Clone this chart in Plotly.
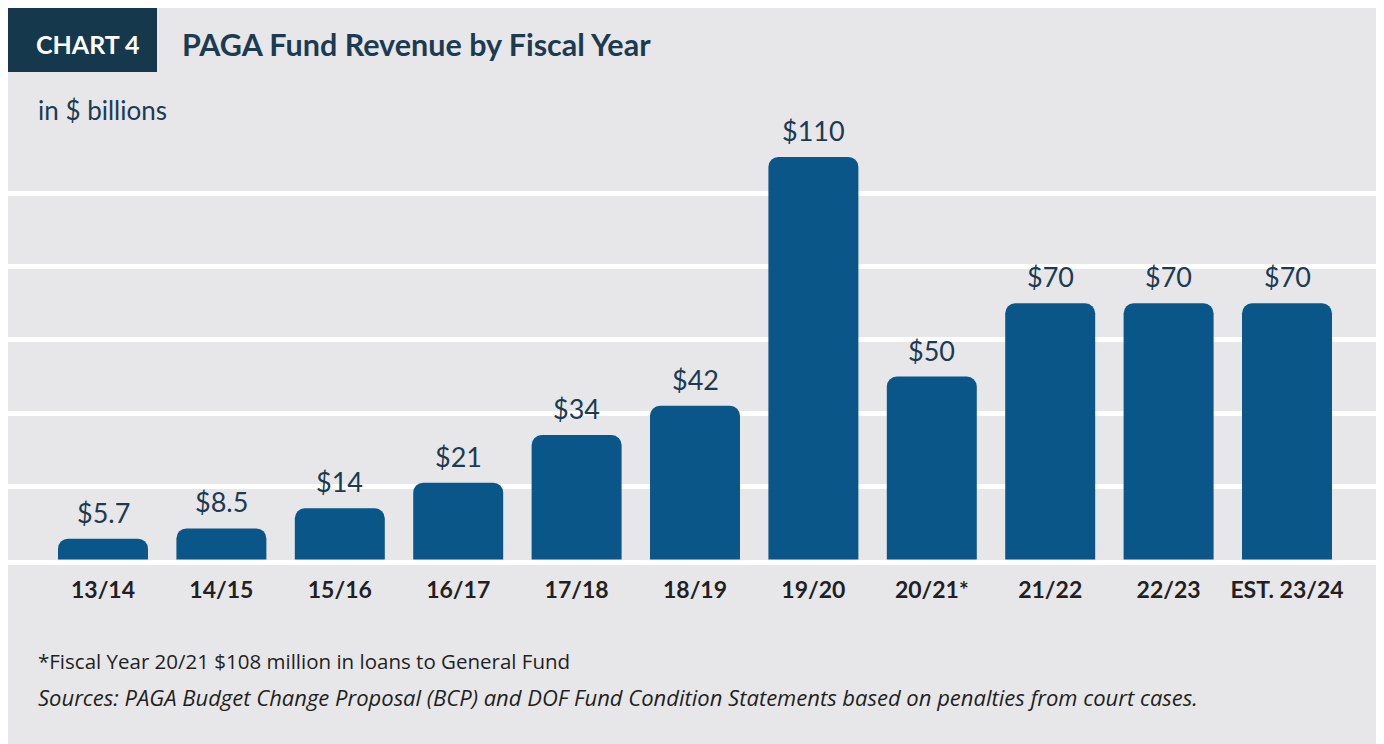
import plotly.graph_objects as go

# ---- data ----
categories = ["13/14", "14/15", "15/16", "16/17", "17/18", "18/19",
              "19/20", "20/21*", "21/22", "22/23", "EST. 23/24"]
values = [5.7, 8.5, 14, 21, 34, 42, 110, 50, 70, 70, 70]
value_labels = ["$5.7", "$8.5", "$14", "$21", "$34", "$42",
                "$110", "$50", "$70", "$70", "$70"]
grid_values = [20, 40, 60, 80, 100]

chart_tag = "CHART 4"
title = "PAGA Fund Revenue by Fiscal Year"
unit_label = "in $ billions"
footnote = "*Fiscal Year 20/21 $108 million in loans to General Fund"
sources = ("<i>Sources: PAGA Budget Change Proposal (BCP) and DOF Fund Condition "
           "Statements based on penalties from court cases.</i>")

# ---- layout geometry (page pixels; page body has 8px offset) ----
OX, OY = 8, 8
W, H = 1376, 736
T_page, Bot_page = 120, 560
L, R = 0, 0
T = T_page - OY
B = H - (Bot_page - OY)
PW, PH = W - L - R, H - T - B


def px(x):
    return (x - OX - L) / PW


def py(y):
    return (H - B - (y - OY)) / PH


BG = "#e7e7ea"
BAR = "#0b5689"
NAVY = "#16384d"
TXT = "#1c3b50"
DARK = "#231f20"

fig = go.Figure()
fig.add_trace(go.Bar(
    x=categories, y=values,
    marker=dict(color=BAR, cornerradius=10, line=dict(width=0)),
    hoverinfo="skip",
))

annotations = []
for c, v, t in zip(categories, values, value_labels):
    annotations.append(dict(
        x=c, y=v, xref="x", yref="y", text=t, showarrow=False,
        yanchor="bottom", yshift=8,
        font=dict(family="Lato", size=27, color=TXT),
    ))

annotations += [
    dict(x=px(88), y=py(44), xref="paper", yref="paper", text="<b>" + chart_tag + "</b>",
         showarrow=False, xanchor="center", yanchor="middle",
         font=dict(family="Lato", size=25, color="white")),
    dict(x=px(180), y=py(44), xref="paper", yref="paper", text="<b>" + title + "</b>",
         showarrow=False, xanchor="left", yanchor="middle",
         font=dict(family="Lato", size=30.5, color=TXT)),
    dict(x=px(36), y=py(110), xref="paper", yref="paper", text=unit_label,
         showarrow=False, xanchor="left", yanchor="middle",
         font=dict(family="Lato", size=26, color=TXT)),
    dict(x=px(36), y=py(661), xref="paper", yref="paper", text=footnote,
         showarrow=False, xanchor="left", yanchor="middle",
         font=dict(family="Open Sans", size=20.5, color=DARK)),
    dict(x=px(36), y=py(697), xref="paper", yref="paper", text=sources,
         showarrow=False, xanchor="left", yanchor="middle",
         font=dict(family="Open Sans", size=22, color=DARK)),
]

shapes = [
    dict(type="rect", xref="paper", yref="paper", x0=px(8), x1=px(157),
         y0=py(72), y1=py(0), fillcolor=NAVY, line=dict(width=0), layer="below"),
]

zero_px = 559.5 - OY
scale = 3.66  # px per unit
ymin = -(H - B - zero_px) / scale
ymax = (zero_px - T) / scale

step = 118.4
c0 = 103 - OX
xmin = (L - c0) / step
xmax = (W - R - c0) / step

fig.update_layout(
    width=W, height=H,
    margin=dict(l=L, r=R, t=T, b=B, pad=0),
    paper_bgcolor=BG,
    plot_bgcolor="rgba(0,0,0,0)",
    showlegend=False,
    bargap=0.24,
    annotations=annotations,
    shapes=shapes,
    xaxis=dict(
        type="category", range=[xmin, xmax], showgrid=False, zeroline=False,
        showline=True, linecolor="white", linewidth=4.5,
        ticks="", ticklabelstandoff=6,
        tickfont=dict(family="Lato", size=23, color=DARK),
        tickprefix="<b>", ticksuffix="</b>", fixedrange=True,
    ),
    yaxis=dict(
        range=[ymin, ymax], tickvals=grid_values, showticklabels=False,
        showgrid=True, gridcolor="white", gridwidth=4.5, zeroline=False,
        showline=False, ticks="", fixedrange=True,
    ),
)

fig.write_html("out.html")
